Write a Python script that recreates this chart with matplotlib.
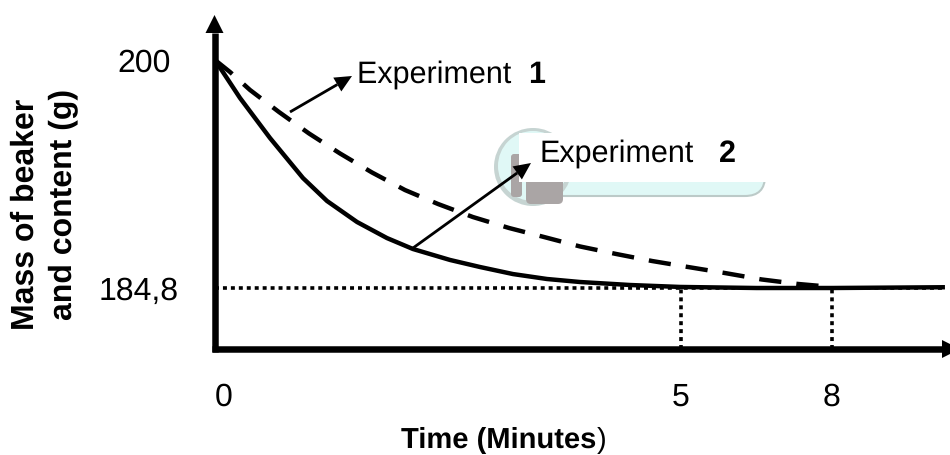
import matplotlib
matplotlib.use("Agg")
import matplotlib.pyplot as plt
import numpy as np
from matplotlib.lines import Line2D
from matplotlib.patches import Circle, FancyBboxPatch, Polygon, Rectangle
from matplotlib.transforms import Affine2D

plt.rcParams["font.family"] = ["Liberation Sans", "DejaVu Sans"]
plt.rcParams["text.hinting"] = "no_hinting"

# values, the time axis is a sketch and not to scale
time_ticks = [0, 5, 8]
time_labels = ["0", "5", "8"]
mass_ticks = [184.8, 200]
mass_labels = ["184,8", "200"]

time_exp1 = [0, 0.161, 0.376, 0.687, 1.009, 1.341, 1.685, 2.039, 2.393, 2.768, 3.155, 3.53,
             3.916, 4.303, 4.689, 5.14, 5.87, 6.6, 7.32, 8]
mass_exp1 = [200, 199.2, 198.0, 196.53, 195.1, 193.77, 192.5, 191.33, 190.4, 189.53, 188.8, 188.2,
             187.57, 187.07, 186.6, 186.2, 185.8, 185.37, 185.07, 184.87]
time_exp2 = [0, 0.268, 0.59, 0.944, 1.202, 1.524, 1.845, 2.124, 2.521, 2.843, 3.197, 3.562,
             3.916, 4.453, 4.989, 6.5, 8, 10.2]
mass_exp2 = [200, 197.47, 194.8, 192.13, 190.6, 189.2, 188.13, 187.4, 186.67, 186.2, 185.73, 185.4,
             185.2, 185.0, 184.87, 184.8, 184.8, 184.85]
final_mass = 184.8
end_times = [5, 8]


def forward(t):
    t = np.asarray(t, dtype=float)
    return np.where(t <= 5, t * 93.2, 466 + (t - 5) * 50.33)


def inverse(p):
    p = np.asarray(p, dtype=float)
    return np.where(p <= 466, p / 93.2, 5 + (p - 466) / 50.33)


W, H = 950, 455
fig = plt.figure(figsize=(W / 100, H / 100), dpi=100)
px = Affine2D().scale(1 / W, -1 / H).translate(0, 1) + fig.transFigure


def arrow(start, tip, width, head_len, head_half):
    start, tip = np.array(start, float), np.array(tip, float)
    d = (tip - start) / np.hypot(*(tip - start))
    n = np.array([-d[1], d[0]])
    base = tip - d * head_len
    fig.add_artist(Line2D([start[0], base[0]], [start[1], base[1]], color="black",
                          lw=width * 0.72, transform=px, solid_capstyle="butt", zorder=5))
    fig.add_artist(Polygon([tip, base + n * head_half, base - n * head_half], fc="black",
                           ec="none", transform=px, zorder=5))


# watermark behind the second label
fig.add_artist(FancyBboxPatch((540, 150), 225, 46, boxstyle="round,pad=0,rounding_size=20",
                              fc="#e0f8f6", ec="#bccac8", lw=1.5, transform=px))
fig.add_artist(Circle((533, 167), 39, fc="#c6d4d2", ec="none", transform=px))
fig.add_artist(Circle((533, 166), 35, fc="#e0f8f6", ec="none", transform=px))
fig.add_artist(FancyBboxPatch((511, 154), 11, 43, boxstyle="round,pad=0,rounding_size=3",
                              fc="#aaa5a5", ec="none", transform=px))
fig.add_artist(FancyBboxPatch((526, 176), 37, 28, boxstyle="round,pad=0,rounding_size=5",
                              fc="#aaa5a5", ec="none", transform=px))
fig.add_artist(Rectangle((519, 133), 248, 49, fc="white", ec="none", transform=px))

ax = fig.add_axes([215 / W, 1 - 349 / H, (950 - 215) / W, (349 - 15) / H])
ax.patch.set_alpha(0)
ax.set_xscale("function", functions=(forward, inverse))
ax.set_xlim(0, 8 + 118 / 50.33)
ax.set_ylim(184.8 - 61 / 15, 200 + 45 / 15)
for s in ax.spines.values():
    s.set_visible(False)

ax.plot(time_exp1, mass_exp1, color="black", lw=3.2, dashes=(5, 3.4))
ax.plot(time_exp2, mass_exp2, color="black", lw=3.2)
ax.plot([0, time_exp2[-1]], [final_mass, final_mass], color="black", lw=2.6, dashes=(1.1, 1.1), zorder=1)
for t in end_times:
    ax.plot([t, t], [ax.get_ylim()[0], final_mass], color="black", lw=2.6, dashes=(1.1, 1.1), zorder=1)

ax.set_xticks(time_ticks, time_labels, fontsize=23)
ax.set_yticks(mass_ticks, mass_labels, fontsize=23)
ax.tick_params(axis="x", length=0, pad=24)
ax.tick_params(axis="y", length=0, pad=32)
zero = ax.get_xticklabels()[0]
zero.set_transform(zero.get_transform() + Affine2D().translate(9, 0))
low = ax.get_yticklabels()[0]
low.set_transform(low.get_transform() + Affine2D().translate(8, 0))

# axis arrows, the horizontal one runs off the edge
arrow((212, 349), (960, 349), 6.5, 18, 9)
arrow((214.5, 352), (214.5, 15), 6.5, 18, 9)

# label arrows
arrow((290, 112), (352, 76), 2.8, 17, 8)
arrow((413, 248), (531, 163), 2.8, 17, 8)

fig.text(357, 75, "Experiment ", transform=px, fontsize=22, va="center")
fig.text(528, 75, "1", transform=px, fontsize=22, va="center", fontweight="bold")
fig.text(540, 154, "Experiment", transform=px, fontsize=22, va="center")
fig.text(719, 154, "2", transform=px, fontsize=22, va="center", fontweight="bold")

fig.text(401, 440, "Time (Minutes", transform=px, fontsize=21, va="center", fontweight="bold")
fig.text(597, 440, ")", transform=px, fontsize=21, va="center")
fig.text(25, 214, "Mass of beaker", transform=px, fontsize=23, va="center", ha="center",
         rotation=90, fontweight="bold")
fig.text(63, 204, "and content (g)", transform=px, fontsize=23, va="center", ha="center",
         rotation=90, fontweight="bold")

fig.savefig("out.png", dpi=100)
